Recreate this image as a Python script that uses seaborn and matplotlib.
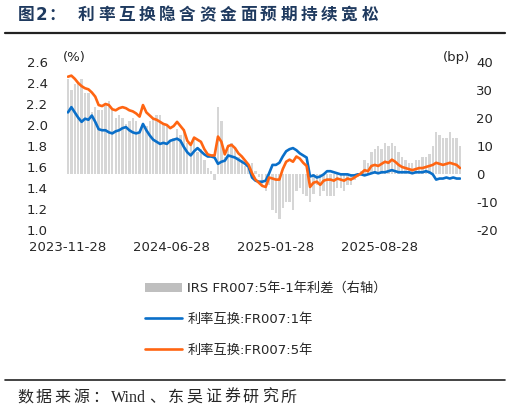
import numpy as np
import pandas as pd
import matplotlib
matplotlib.use("Agg")
import matplotlib.pyplot as plt
import matplotlib.dates as mdates
from matplotlib.lines import Line2D
import seaborn as sns

# weekly samples, 2023-11-28 .. 2026-02-10
dates = pd.date_range("2023-11-28", periods=116, freq="7D")

irs_1y = [2.12, 2.17, 2.12, 2.07, 2.03, 2.06, 2.05, 2.09, 2.03, 1.96,
          1.95, 1.95, 1.93, 1.92, 1.94, 1.95, 1.97, 1.98, 1.95, 1.93,
          1.92, 1.93, 2.01, 1.95, 1.90, 1.86, 1.84, 1.82, 1.83, 1.82,
          1.85, 1.86, 1.87, 1.85, 1.79, 1.74, 1.71, 1.75, 1.78, 1.75,
          1.72, 1.70, 1.70, 1.69, 1.63, 1.65, 1.66, 1.71, 1.70, 1.69,
          1.67, 1.65, 1.63, 1.60, 1.50, 1.47, 1.46, 1.46, 1.47, 1.54,
          1.62, 1.62, 1.64, 1.70, 1.75, 1.77, 1.78, 1.76, 1.73, 1.71,
          1.69, 1.51, 1.52, 1.50, 1.51, 1.53, 1.56, 1.56, 1.55, 1.54,
          1.53, 1.53, 1.53, 1.52, 1.52, 1.53, 1.53, 1.52, 1.53, 1.54,
          1.55, 1.54, 1.55, 1.55, 1.56, 1.57, 1.56, 1.55, 1.55, 1.55,
          1.55, 1.54, 1.55, 1.55, 1.55, 1.56, 1.55, 1.53, 1.48, 1.49,
          1.49, 1.50, 1.49, 1.50, 1.49, 1.49]

irs_5y = [2.46, 2.47, 2.44, 2.40, 2.37, 2.35, 2.34, 2.31, 2.27, 2.19,
          2.18, 2.20, 2.19, 2.15, 2.14, 2.16, 2.17, 2.16, 2.14, 2.13,
          2.11, 2.08, 2.19, 2.12, 2.09, 2.06, 2.05, 2.03, 2.01, 2.00,
          1.97, 1.99, 2.03, 1.99, 1.95, 1.85, 1.81, 1.88, 1.86, 1.84,
          1.77, 1.72, 1.71, 1.71, 1.89, 1.84, 1.72, 1.80, 1.81, 1.78,
          1.73, 1.70, 1.66, 1.62, 1.54, 1.48, 1.45, 1.42, 1.41, 1.50,
          1.49, 1.48, 1.48, 1.58, 1.65, 1.67, 1.65, 1.70, 1.68, 1.64,
          1.61, 1.41, 1.45, 1.46, 1.43, 1.47, 1.48, 1.48, 1.47, 1.49,
          1.48, 1.47, 1.49, 1.48, 1.50, 1.52, 1.54, 1.57, 1.56, 1.61,
          1.62, 1.61, 1.63, 1.65, 1.64, 1.67, 1.65, 1.62, 1.60, 1.59,
          1.58, 1.57, 1.58, 1.59, 1.59, 1.60, 1.61, 1.62, 1.64, 1.63,
          1.62, 1.63, 1.64, 1.63, 1.62, 1.59]

spread_bp = [34, 30, 32, 33, 34, 29, 29, 22, 24, 23,
             23, 25, 26, 23, 20, 21, 20, 18, 19, 20,
             19, 15, 18, 17, 19, 20, 21, 21, 18, 18,
             12, 13, 16, 14, 16, 11, 10, 13, 8, 9,
             5, 2, 1, -2, 24, 19, 6, 9, 11, 9,
             6, 5, 3, 2, 4, 1, -1, -4, -6, -4,
             -13, -14, -16, -12, -10, -10, -13, -6, -5, -7,
             -8, -10, -7, -4, -8, -6, -8, -8, -8, -5,
             -5, -6, -4, -4, -2, -1, 1, 5, 4, 8,
             9, 10, 9, 11, 10, 11, 10, 8, 6, 5,
             4, 4, 5, 5, 6, 6, 7, 10, 15, 14,
             13, 13, 15, 13, 13, 10]

tick_dates = ["2023-11-28", "2024-06-28", "2025-01-28", "2025-08-28"]
left_ticks = [1.0, 1.2, 1.4, 1.6, 1.8, 2.0, 2.2, 2.4, 2.6]
right_ticks = [-20, -10, 0, 10, 20, 30, 40]

label_spread = "IRS FR007:5年-1年利差（右轴）"
label_1y = "利率互换:FR007:1年"
label_5y = "利率互换:FR007:5年"

df = pd.DataFrame({
    "date": mdates.date2num(dates),
    "irs_1y": irs_1y,
    "irs_5y": irs_5y,
    "spread": spread_bp,
})

sns.set_style("white")
plt.rcParams["font.family"] = ["DejaVu Sans", "Noto Sans CJK SC"]
plt.rcParams["font.size"] = 9.5

W, H = 510, 412
fig = plt.figure(figsize=(W / 100, H / 100), dpi=100)
ax = fig.add_axes([67 / W, 1 - 230 / H, 394 / W, 168 / H])
ax2 = ax.twinx()

# spread bars on the right axis
sns.barplot(data=df, x="date", y="spread", native_scale=True, width=0.7,
            color="#d6d6d6", linewidth=0, errorbar=None, ax=ax2, label=label_spread)

# the two swap curves on the left axis
sns.lineplot(data=df, x="date", y="irs_1y", color="#0a6fc9", lw=1.9, ax=ax, label=label_1y)
sns.lineplot(data=df, x="date", y="irs_5y", color="#ff6512", lw=1.9, ax=ax, label=label_5y)
for a in (ax, ax2):
    if a.get_legend() is not None:
        a.get_legend().remove()

ax.set_zorder(ax2.get_zorder() + 1)
ax.patch.set_visible(False)

ax.set_ylim(1.0, 2.6)
ax2.set_ylim(-20, 40)
ax.set_yticks(left_ticks)
ax.set_yticklabels([f"{v:.1f}" for v in left_ticks])
ax2.set_yticks(right_ticks)
ax2.set_yticklabels([str(v) for v in right_ticks])
ax.set_xlim(df["date"].iloc[0] - 2, df["date"].iloc[-1] + 2)
ax.set_xticks(mdates.date2num(pd.to_datetime(tick_dates)))
ax.set_xticklabels(tick_dates)
ax.set_xlabel("")
ax.set_ylabel("")
ax2.set_xlabel("")
ax2.set_ylabel("")
ax.grid(False)
ax2.grid(False)
for a in (ax, ax2):
    for s in a.spines.values():
        s.set_visible(False)
ax.tick_params(axis="y", length=0, pad=14, labelsize=9.5)
ax.tick_params(axis="x", length=0, pad=8, labelsize=9.5)
ax2.tick_params(axis="y", length=0, pad=11, labelsize=9.5)

fig.text(63 / W, 1 - 58 / H, "(%)", va="center", ha="left", fontsize=9.5)
fig.text(470 / W, 1 - 58 / H, "(bp)", va="center", ha="right", fontsize=9.5)

h1, l1 = ax2.get_legend_handles_labels()
h2, l2 = ax.get_legend_handles_labels()
leg = fig.legend(h1 + h2, l1 + l2, loc="upper left", bbox_to_anchor=(145 / W, 1 - 282 / H),
                 frameon=False, borderpad=0, borderaxespad=0, handlelength=2.8,
                 handletextpad=0.4, labelspacing=1.35, fontsize=9.5)
leg.legend_handles[0].set_facecolor("#bfbfbf")

# title and source, placed piece by piece for the wide spacing
renderer = fig.canvas.get_renderer()


def spaced(x, y, pieces, extra, **kw):
    for p in pieces:
        t = fig.text(x / W, 1 - y / H, p, va="center", ha="left", **kw)
        x += t.get_window_extent(renderer).width + extra


navy = "#1f3a5f"
spaced(18, 15, list("图2："), 1, fontsize=12, fontweight="bold", color=navy)
spaced(78, 15, list("利率互换隐含资金面预期持续宽松"), 3.6, fontsize=12, fontweight="bold", color=navy)
fig.add_artist(Line2D([5 / W, 505 / W], [1 - 33 / H, 1 - 33 / H], color="#222222", lw=1.6))

fig.add_artist(Line2D([5 / W, 505 / W], [1 - 380 / H, 1 - 380 / H], color="#222222", lw=1.2))
source = ["数", "据", "来", "源", "：", "Wind", "、", "东", "吴", "证", "券", "研", "究", "所"]
spaced(17, 398, source, 2.8, fontsize=11.5, family=["Liberation Serif", "Noto Sans CJK SC"])

fig.savefig("out.png", dpi=100)
